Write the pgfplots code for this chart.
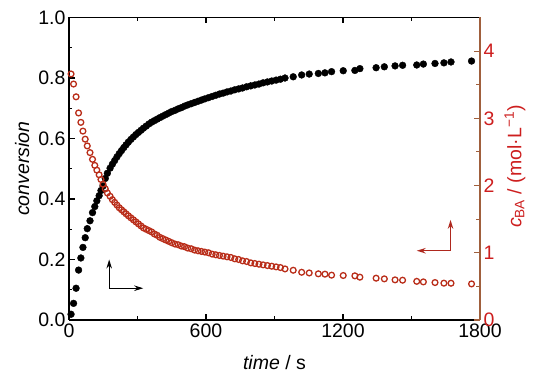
\documentclass[border=0pt]{standalone}
\usepackage{fontspec}
\setmainfont{Liberation Sans}
\usepackage{pgfplots}
\pgfplotsset{compat=1.18}
\usepackage{pgfplotstable}
\usetikzlibrary{arrows.meta}
\definecolor{axbrown}{RGB}{160,95,60}
\definecolor{tickred}{RGB}{205,30,30}
\definecolor{markred}{RGB}{185,45,25}
\definecolor{arrred}{RGB}{175,40,30}

\pgfplotstableread{
t X c
9 0.019 3.66
20 0.055 3.51
31 0.105 3.32
42 0.165 3.08
52 0.205 2.94
61 0.240 2.81
71 0.272 2.69
80 0.302 2.59
92 0.328 2.49
103 0.355 2.39
113 0.375 2.30
122 0.394 2.23
132 0.411 2.16
140 0.428 2.09
149 0.443 2.02
159 0.468 1.95
168 0.485 1.89
180 0.502 1.84
190 0.515 1.79
200 0.527 1.75
210 0.539 1.71
220 0.550 1.67
230 0.560 1.64
240 0.570 1.61
250 0.579 1.58
260 0.588 1.55
271 0.597 1.52
282 0.605 1.49
293 0.613 1.46
304 0.620 1.43
315 0.627 1.40
326 0.634 1.37
338 0.641 1.35
350 0.648 1.33
362 0.654 1.31
374 0.659 1.28
386 0.664 1.26
398 0.669 1.23
411 0.674 1.21
424 0.679 1.19
437 0.684 1.17
450 0.689 1.15
464 0.693 1.13
478 0.698 1.12
492 0.702 1.10
506 0.707 1.09
520 0.711 1.07
535 0.715 1.06
550 0.719 1.04
565 0.723 1.03
580 0.727 1.02
595 0.731 1.01
611 0.735 1.00
627 0.739 0.98
643 0.743 0.97
659 0.747 0.96
675 0.750 0.95
692 0.754 0.94
709 0.757 0.93
726 0.761 0.91
743 0.764 0.90
760 0.767 0.88
778 0.771 0.87
796 0.774 0.85
814 0.777 0.84
832 0.780 0.83
850 0.784 0.82
869 0.787 0.81
888 0.790 0.80
907 0.793 0.79
926 0.796 0.78
946 0.800 0.76
982 0.804 0.74
1019 0.810 0.71
1052 0.813 0.70
1092 0.815 0.687
1121 0.817 0.682
1150 0.821 0.667
1201 0.824 0.662
1252 0.825 0.657
1274 0.831 0.637
1345 0.834 0.622
1381 0.837 0.612
1428 0.840 0.597
1461 0.842 0.592
1523 0.843 0.575
1552 0.846 0.567
1603 0.848 0.557
1642 0.850 0.548
1673 0.853 0.547
1763 0.856 0.537
}\data

\newcommand{\bigfont}{\fontsize{19.5}{22}\selectfont}

\begin{document}
\begin{tikzpicture}[x=1pt,y=1pt]
\useasboundingbox (-69,-65) rectangle (481,320);
\begin{axis}[
  scale only axis, width=411pt, height=302.5pt,
  xmin=0, xmax=1800, ymin=0, ymax=1,
  axis x line*=box, axis y line*=left,
  axis line style={line width=1.1pt, black},
  tick align=inside,
  major tick length=6pt, minor tick length=3.5pt,
  tick style={line width=1.1pt, black},
  xtick={0,600,1200,1800}, minor xtick={300,900,1500},
  ytick={0,0.2,0.4,0.6,0.8,1.0}, minor ytick={0.1,0.3,0.5,0.7,0.9},
  /pgf/number format/assume math mode=true,
  /pgf/number format/1000 sep={},
  yticklabel style={/pgf/number format/fixed, /pgf/number format/fixed zerofill, /pgf/number format/precision=1},
  every tick label/.append style={font=\bigfont},
  xlabel={\textit{time} / s},
  xlabel style={font=\bigfont, at={(axis description cs:0.5,-0.141)}, anchor=center},
  ylabel={\textit{conversion}},
  ylabel style={font=\bigfont, at={(axis description cs:-0.114,0.5)}, anchor=center},
  clip=false,
]
\addplot[only marks, mark=*, mark size=3.4pt, black] table[x=t, y=X] {\data};
\draw[line width=1.2pt, -{Stealth[length=9pt,width=5.5pt]}] (axis cs:176,0.105) -- (axis cs:176,0.2);
\draw[line width=1.2pt, -{Stealth[length=9pt,width=5.5pt]}] (axis cs:176,0.105) -- (axis cs:325,0.105);
\draw[arrred, line width=1.2pt, -{Stealth[length=9pt,width=5.5pt]}] (axis cs:1671,0.229) -- (axis cs:1671,0.331);
\draw[arrred, line width=1.2pt, -{Stealth[length=9pt,width=5.5pt]}] (axis cs:1671,0.229) -- (axis cs:1523,0.229);
\end{axis}
\begin{axis}[
  scale only axis, width=411pt, height=302.5pt,
  xmin=0, xmax=1800, ymin=0, ymax=4.5,
  axis x line=none, axis y line*=right,
  y axis line style={line width=1.1pt, axbrown},
  tick align=inside,
  major tick length=6pt, minor tick length=3.5pt,
  ytick style={line width=1.1pt, axbrown},
  ytick={0,1,2,3,4}, minor ytick={0.5,1.5,2.5,3.5},
  /pgf/number format/assume math mode=true,
  yticklabel style={font=\bigfont, tickred},
  ylabel={\textit{c}\textsubscript{BA} / (mol·L\textsuperscript{−1})},
  ylabel style={font=\bigfont, tickred, at={(axis description cs:1.085,0.507)}, anchor=center, rotate=0},
  clip=false,
]
\addplot[only marks, mark=o, mark size=2.9pt, mark options={line width=1.3pt}, markred] table[x=t, y=c] {\data};
\end{axis}
\end{tikzpicture}
\end{document}
